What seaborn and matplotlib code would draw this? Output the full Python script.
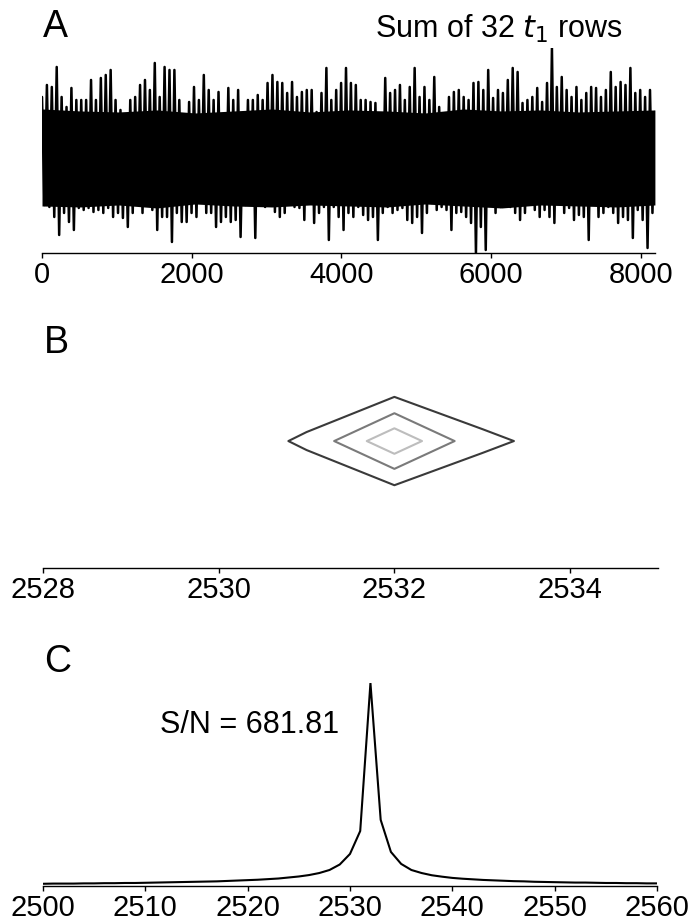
import numpy as np
import matplotlib
matplotlib.use("Agg")
import matplotlib.pyplot as plt
import seaborn as sns

# --- panel A: envelope of the summed t1 trace (upper / lower extremes)
a_hi = [6.1, 7.3, 7.1, 9.1, 6.1, 5.1, 7.0, 5.8, 5.8, 5.8,
        7.8, 5.8, 8.0, 8.3, 8.8, 5.8, 4.8, 4.3, 5.8, 6.1,
        7.3, 7.8, 6.8, 9.5, 6.1, 9.1, 8.8, 8.8, 5.8, 4.0,
        5.6, 7.1, 5.8, 8.3, 6.8, 5.8, 6.6, 4.1, 7.0, 5.8,
        6.8, 4.1, 5.8, 5.8, 6.3, 5.8, 7.5, 8.3, 7.6, 7.5,
        6.5, 7.6, 6.1, 6.6, 6.8, 6.8, 4.6, 6.5, 9.0, 5.8,
        6.8, 7.5, 9.0, 7.5,
        7.3, 5.8, 5.8, 5.6, 5.5, 4.1, 8.0, 6.5, 6.8, 7.3,
        5.8, 7.1, 9.0, 6.1, 7.1, 5.8, 8.1, 5.1, 4.1, 6.1,
        6.6, 6.8, 6.1, 5.8, 7.5, 7.6, 6.8, 8.8, 6.0, 6.8,
        6.5, 7.8, 9.0, 8.6, 5.5, 5.8, 6.1, 7.0, 5.6, 7.5,
        11.0, 7.1, 8.1, 6.8, 6.1, 7.1, 5.8, 6.5, 7.1, 7.0,
        6.1, 6.8, 8.6, 7.1, 7.6, 7.3, 9.0, 6.5, 6.8, 6.1,
        6.8, 4.6]
a_lo = [-4.7, -4.9, -5.9, -7.7, -5.5, -6.4, -7.2, -5.0, -5.2, -5.0,
        -5.4, -5.2, -5.5, -5.0, -5.9, -5.5, -6.0, -6.9, -5.5, -3.4,
        -5.5, -4.2, -5.2, -7.2, -5.9, -5.9, -8.4, -5.5, -6.4, -6.4,
        -5.5, -5.9, -4.2, -5.5, -5.5, -6.9, -6.4, -5.9, -6.4, -6.2,
        -7.9, -4.7, -4.2, -8.0, -4.7, -4.9, -4.2, -5.4, -5.9, -5.5,
        -4.4, -4.9, -5.0, -6.2, -4.0, -6.5, -5.5, -4.9, -8.2, -4.9,
        -5.9, -7.2, -5.5,
        -5.9, -4.9, -5.7, -6.2, -5.9, -8.2, -5.5, -4.9, -5.5, -5.2,
        -5.0, -6.2, -6.5, -5.9, -7.5, -5.5, -4.5, -5.2, -4.9, -5.2,
        -7.2, -5.5, -5.4, -5.9, -6.5, -9.5, -6.9, -9.2, -4.5, -5.5,
        -4.9, -3.9, -4.9, -5.5, -6.2, -5.5, -4.2, -5.2, -5.9, -5.2,
        -5.9, -6.5, -4.5, -5.5, -5.0, -6.2, -5.7, -5.9, -8.2, -4.2,
        -5.9, -5.5, -4.9, -5.5, -6.5, -5.9, -6.2, -8.0, -5.2, -6.2,
        -9.0, -5.5, -5.9]
# solid inner part of the band (where the trace is completely filled in)
a_core_hi = [4.9, 4.7, 4.6, 4.8, 4.5, 4.7, 4.9, 4.6, 4.8,
             4.7, 4.5, 4.9, 4.7, 4.8, 4.6, 4.7, 4.8]
a_core_lo = [-4.8, -4.9, -4.7, -5.0, -4.6, -4.8, -4.9, -4.7, -4.8,
             -4.9, -4.6, -4.8, -5.0, -4.7, -4.8, -4.9, -4.7]
a_npts = 8192
a_ticks = [0, 2000, 4000, 6000, 8000]

# --- panel B: 2D peak around (2532, 0)
b_x = [2530, 2531, 2532, 2533, 2534]
b_y = [-1, 0, 1]
b_z = [[0.0, -0.10, 0.0, 0.0, 0.0],
       [0.0, 0.30, 1.00, 0.30, 0.128],
       [0.0, -0.10, 0.0, 0.0, 0.0]]
b_levels = [0.238, 0.52, 0.78]
b_colors = ["#3a3a3a", "#7a7a7a", "#bdbdbd"]
b_ticks = [2528, 2530, 2532, 2534]

# --- panel C: 1D slice through the peak
c_x = list(range(2500, 2561))
c_y = [1.1, 1.2, 1.2, 1.2, 1.3, 1.3, 1.4, 1.4, 1.5, 1.5,
       1.6, 1.7, 1.8, 1.9, 2.0, 2.1, 2.2, 2.3, 2.5, 2.7,
       2.9, 3.1, 3.4, 3.7, 4.2, 4.7, 5.4, 6.4, 7.9, 10.6,
       15.8, 27.1, 100.0, 32.6, 16.8, 10.9, 7.9, 6.4, 5.3, 4.6,
       4.0, 3.6, 3.3, 3.0, 2.8, 2.6, 2.4, 2.3, 2.1, 2.0,
       1.9, 1.8, 1.7, 1.7, 1.6, 1.5, 1.5, 1.4, 1.4, 1.3,
       1.3]
c_ticks = [2500, 2510, 2520, 2530, 2540, 2550, 2560]
sn_label = "S/N = 681.81"

sns.set_theme(style="ticks")
plt.rcParams["font.family"] = ["Liberation Sans", "DejaVu Sans"]
plt.rcParams["mathtext.fontset"] = "dejavusans"
plt.rcParams["text.color"] = "black"
plt.rcParams["path.simplify"] = False  # keep every stroke of the dense noise trace

fig = plt.figure(figsize=(6.92, 9.24), dpi=100)
axA = fig.add_axes([0.0607, 0.7262, 0.8858, 0.2219])
axB = fig.add_axes([0.0621, 0.3853, 0.8887, 0.2208])
axC = fig.add_axes([0.0621, 0.0411, 0.8873, 0.2197])

for ax in (axA, axB, axC):
    for s in ("top", "right", "left"):
        ax.spines[s].set_visible(False)
    ax.spines["bottom"].set_linewidth(1.0)
    ax.spines["bottom"].set_color("black")
    ax.set_yticks([])
    ax.tick_params(axis="x", labelsize=21, length=3.6, width=1.0, pad=2.5,
                   color="black", labelcolor="black")

# A: zig-zag between the upper and lower extremes gives the dense noise band
n = len(a_hi)
xa = np.linspace(0, a_npts - 1, n)
step = xa[1] - xa[0]
xs = np.empty(2 * n)
ys = np.empty(2 * n)
xs[0::2] = xa
xs[1::2] = xa + step / 2
ys[0::2] = a_hi
ys[1::2] = a_lo
xc = np.linspace(0, a_npts - 1, len(a_core_hi))
axA.fill_between(xc, a_core_lo, a_core_hi, color="black", lw=0)
axA.plot(xs, ys, color="black", linewidth=1.8)
axA.set_xlim(0, a_npts)
axA.set_ylim(min(a_lo), max(a_hi))
axA.set_xticks(a_ticks)

# B: contour of the peak
axB.contour(b_x, b_y, np.array(b_z), levels=b_levels, colors=b_colors, linewidths=1.5)
axB.set_xlim(2528, 2535)
axB.set_ylim(-2.19, 1.33)
axB.set_xticks(b_ticks)

# C: slice
sns.lineplot(x=c_x, y=c_y, color="black", linewidth=1.5, ax=axC)
axC.set_xlim(2500, 2560)
axC.set_ylim(0, max(c_y))
axC.set_xticks(c_ticks)
axC.text(2511.4, 75.4, sn_label, fontsize=22, va="baseline", ha="left")

for ax in (axA, axB, axC):
    ax.set_xlabel("")
    ax.set_ylabel("")

fig.text(43 / 692, 1 - 37 / 924, "A", fontsize=27, va="baseline")
fig.text(44 / 692, 1 - 353 / 924, "B", fontsize=27, va="baseline")
fig.text(44 / 692, 1 - 672 / 924, "C", fontsize=27, va="baseline")
fig.text(375 / 692, 1 - 38 / 924, "Sum of 32 $t_1$ rows", fontsize=22, va="baseline")

fig.savefig("out.png", dpi=100)
